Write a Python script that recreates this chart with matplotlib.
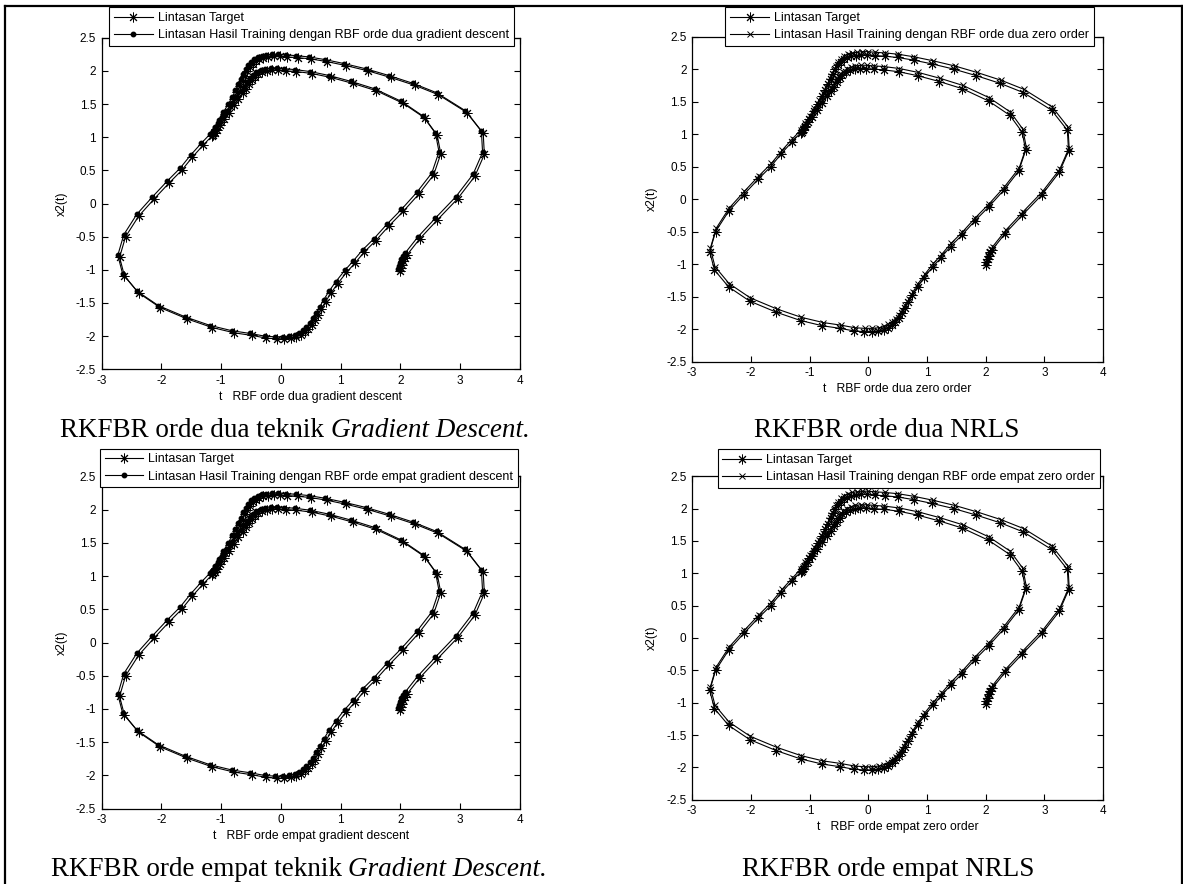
import matplotlib
matplotlib.use('Agg')
import matplotlib.pyplot as plt
from matplotlib.lines import Line2D

plt.rcParams['font.family'] = ['Liberation Sans', 'DejaVu Sans']
plt.rcParams['axes.unicode_minus'] = False

# ---------------- data ----------------
target_x = [2.00, 2.01, 2.03, 2.05, 2.08, 2.11, 2.33, 2.62, 2.96, 3.25,
            3.41, 3.39, 3.12, 2.64, 2.25, 1.84, 1.46, 1.09, 0.77, 0.50,
            0.28, 0.11, -0.02, -0.12, -0.21, -0.29, -0.36, -0.42, -0.47, -0.52,
            -0.56, -0.60, -0.64, -0.68, -0.73, -0.78, -0.85, -0.93, -1.01, -1.08,
            -1.13, -1.30, -1.48, -1.66, -1.87, -2.12, -2.38, -2.60, -2.70, -2.62,
            -2.38, -2.02, -1.57, -1.15, -0.78, -0.48, -0.24, -0.07, 0.06, 0.17,
            0.26, 0.33, 0.40, 0.46, 0.52, 0.57, 0.62, 0.68, 0.75, 0.84,
            0.95, 1.10, 1.24, 1.40, 1.59, 1.81, 2.05, 2.31, 2.56, 2.68,
            2.62, 2.41, 2.05, 1.60, 1.21, 0.84, 0.52, 0.26, 0.09, -0.04,
            -0.14, -0.23, -0.31, -0.38, -0.44, -0.49, -0.54, -0.59, -0.64, -0.71,
            -0.79, -0.87, -0.95, -1.02, -1.07, -1.11, -1.15]
target_y = [-1.02, -0.97, -0.92, -0.87, -0.82, -0.78, -0.53, -0.25, 0.07, 0.41,
            0.74, 1.06, 1.37, 1.64, 1.78, 1.90, 2.00, 2.08, 2.14, 2.18,
            2.20, 2.21, 2.22, 2.22, 2.21, 2.20, 2.18, 2.15, 2.11, 2.06,
            2.00, 1.93, 1.85, 1.77, 1.68, 1.58, 1.47, 1.35, 1.23, 1.12,
            1.04, 0.88, 0.70, 0.50, 0.31, 0.07, -0.19, -0.50, -0.81, -1.09,
            -1.35, -1.57, -1.74, -1.87, -1.95, -1.99, -2.03, -2.04, -2.04, -2.03,
            -2.01, -1.98, -1.94, -1.89, -1.83, -1.76, -1.68, -1.59, -1.48, -1.35,
            -1.21, -1.04, -0.90, -0.73, -0.56, -0.34, -0.12, 0.14, 0.43, 0.75,
            1.03, 1.29, 1.51, 1.70, 1.81, 1.90, 1.96, 1.99, 2.00, 2.01,
            2.01, 2.00, 1.98, 1.95, 1.91, 1.86, 1.80, 1.73, 1.66, 1.58,
            1.48, 1.37, 1.27, 1.18, 1.11, 1.06, 1.02]

# output of the RBF network trained with gradient descent
trained_gd_x = [1.97, 1.98, 2.00, 2.02, 2.05, 2.08, 2.30, 2.59, 2.93, 3.22,
                3.38, 3.36, 3.09, 2.61, 2.22, 1.81, 1.43, 1.06, 0.74, 0.47,
                0.25, 0.08, -0.05, -0.15, -0.24, -0.32, -0.39, -0.45, -0.50, -0.55,
                -0.59, -0.63, -0.67, -0.71, -0.76, -0.81, -0.88, -0.96, -1.04, -1.11,
                -1.16, -1.33, -1.51, -1.69, -1.90, -2.15, -2.41, -2.63, -2.73, -2.65,
                -2.41, -2.05, -1.60, -1.18, -0.81, -0.51, -0.27, -0.10, 0.03, 0.14,
                0.23, 0.30, 0.37, 0.43, 0.49, 0.54, 0.59, 0.65, 0.72, 0.81,
                0.92, 1.07, 1.21, 1.37, 1.56, 1.78, 2.02, 2.28, 2.53, 2.65,
                2.59, 2.38, 2.02, 1.57, 1.18, 0.81, 0.49, 0.23, 0.06, -0.07,
                -0.17, -0.26, -0.34, -0.41, -0.47, -0.52, -0.57, -0.62, -0.67, -0.74,
                -0.82, -0.90, -0.98, -1.05, -1.10, -1.14, -1.18]
trained_gd_y = [-0.99, -0.94, -0.89, -0.84, -0.79, -0.75, -0.50, -0.22, 0.10, 0.44,
                0.77, 1.09, 1.40, 1.67, 1.81, 1.93, 2.03, 2.11, 2.17, 2.21,
                2.23, 2.24, 2.25, 2.25, 2.24, 2.23, 2.21, 2.18, 2.14, 2.09,
                2.03, 1.96, 1.88, 1.80, 1.71, 1.61, 1.50, 1.38, 1.26, 1.15,
                1.07, 0.91, 0.73, 0.53, 0.34, 0.10, -0.16, -0.47, -0.78, -1.06,
                -1.32, -1.54, -1.71, -1.84, -1.92, -1.96, -2.00, -2.01, -2.01, -2.00,
                -1.98, -1.95, -1.91, -1.86, -1.80, -1.73, -1.65, -1.56, -1.45, -1.32,
                -1.18, -1.01, -0.87, -0.70, -0.53, -0.31, -0.09, 0.17, 0.46, 0.78,
                1.06, 1.32, 1.54, 1.73, 1.84, 1.93, 1.99, 2.02, 2.03, 2.04,
                2.04, 2.03, 2.01, 1.98, 1.94, 1.89, 1.83, 1.76, 1.69, 1.61,
                1.51, 1.40, 1.30, 1.21, 1.14, 1.09, 1.05]

# output of the RBF network trained with zero order (NRLS)
trained_zo_x = [2.01, 2.02, 2.04, 2.06, 2.09, 2.12, 2.34, 2.63, 2.97, 3.26,
                3.42, 3.40, 3.13, 2.65, 2.26, 1.85, 1.47, 1.10, 0.78, 0.51,
                0.29, 0.12, -0.01, -0.11, -0.20, -0.28, -0.35, -0.41, -0.46, -0.51,
                -0.55, -0.59, -0.63, -0.67, -0.72, -0.77, -0.84, -0.92, -1.00, -1.07,
                -1.12, -1.29, -1.47, -1.65, -1.86, -2.11, -2.37, -2.59, -2.69, -2.61,
                -2.37, -2.01, -1.56, -1.14, -0.77, -0.47, -0.23, -0.06, 0.07, 0.18,
                0.27, 0.34, 0.41, 0.47, 0.53, 0.58, 0.63, 0.69, 0.76, 0.85,
                0.96, 1.11, 1.25, 1.41, 1.60, 1.82, 2.06, 2.32, 2.57, 2.69,
                2.63, 2.42, 2.06, 1.61, 1.22, 0.85, 0.53, 0.27, 0.10, -0.03,
                -0.13, -0.22, -0.30, -0.37, -0.43, -0.48, -0.53, -0.58, -0.63, -0.70,
                -0.78, -0.86, -0.94, -1.01, -1.06, -1.10, -1.14]
trained_zo_y = [-0.97, -0.92, -0.87, -0.82, -0.77, -0.73, -0.48, -0.20, 0.12, 0.46,
                0.79, 1.11, 1.42, 1.69, 1.83, 1.95, 2.05, 2.13, 2.19, 2.23,
                2.25, 2.26, 2.27, 2.27, 2.26, 2.25, 2.23, 2.20, 2.16, 2.11,
                2.05, 1.98, 1.90, 1.82, 1.73, 1.63, 1.52, 1.40, 1.28, 1.17,
                1.09, 0.93, 0.75, 0.55, 0.36, 0.12, -0.14, -0.45, -0.76, -1.04,
                -1.30, -1.52, -1.69, -1.82, -1.90, -1.94, -1.98, -1.99, -1.99, -1.98,
                -1.96, -1.93, -1.89, -1.84, -1.78, -1.71, -1.63, -1.54, -1.43, -1.30,
                -1.16, -0.99, -0.85, -0.68, -0.51, -0.29, -0.07, 0.19, 0.48, 0.80,
                1.08, 1.34, 1.56, 1.75, 1.86, 1.95, 2.01, 2.04, 2.05, 2.06,
                2.06, 2.05, 2.03, 2.00, 1.96, 1.91, 1.85, 1.78, 1.71, 1.63,
                1.53, 1.42, 1.32, 1.23, 1.16, 1.11, 1.07]

x_ticks = [-3, -2, -1, 0, 1, 2, 3, 4]
y_ticks = [-2.5, -2, -1.5, -1, -0.5, 0, 0.5, 1, 1.5, 2, 2.5]
x_tick_labels = ['-3', '-2', '-1', '0', '1', '2', '3', '4']
y_tick_labels = ['-2.5', '-2', '-1.5', '-1', '-0.5', '0', '0.5', '1', '1.5', '2', '2.5']

label_target = 'Lintasan Target'
labels_trained = ['Lintasan Hasil Training dengan RBF orde dua gradient descent',
                  'Lintasan Hasil Training dengan RBF orde dua zero order',
                  'Lintasan Hasil Training dengan RBF orde empat gradient descent',
                  'Lintasan Hasil Training dengan RBF orde empat zero order']
x_labels = ['t   RBF orde dua gradient descent',
            't   RBF orde dua zero order',
            't   RBF orde empat gradient descent',
            't   RBF orde empat zero order']
y_label = 'x2(t)'
captions = [('RKFBR orde dua teknik ', 'Gradient Descent.'),
            ('RKFBR orde dua NRLS', ''),
            ('RKFBR orde empat teknik ', 'Gradient Descent.'),
            ('RKFBR orde empat NRLS', '')]

# ---------------- layout ----------------
W, H = 1183, 884
fig = plt.figure(figsize=(W / 100, H / 100), dpi=100)

def fx(px):
    return px / W

def fy(py):
    return 1 - py / H

# (left, top, right, bottom) of each axes in pixels
axes_px = [(101.7, 37.7, 519.6, 369.3),
           (692.1, 36.7, 1103.2, 361.5),
           (101.7, 476.3, 519.6, 808.7),
           (692.1, 476.3, 1103.2, 799.7)]
legend_px = [(109.2, 7.3), (725.4, 7.3), (99.8, 448.7), (717.5, 449.3)]
caption_px = [(294.6, 430.0), (887.0, 430.0), (299.0, 869.7), (888.0, 869.7)]
xlabel_gap = 27.5   # px between axes bottom and x-label centre
ylabel_gap = 40.0   # px between axes left and y-label centre
trained_sets = [(trained_gd_x, trained_gd_y, 'o'),
                (trained_zo_x, trained_zo_y, 'x'),
                (trained_gd_x, trained_gd_y, 'o'),
                (trained_zo_x, trained_zo_y, 'x')]

star = (8, 2, 0)
lw = 0.8

for i in range(4):
    l, t, r, b = axes_px[i]
    aw, ah = r - l, b - t
    ax = fig.add_axes([fx(l), fy(b), aw / W, ah / H])
    tx, ty, mk = trained_sets[i]
    h1, = ax.plot(target_x, target_y, color='k', lw=lw, marker=star,
                  ms=7, mew=0.7, label=label_target)
    if mk == 'o':
        h2, = ax.plot(tx, ty, color='k', lw=lw, marker='o', ms=3.2,
                      mfc='k', mec='k', label=labels_trained[i])
    else:
        h2, = ax.plot(tx, ty, color='k', lw=lw, marker='x', ms=4.8,
                      mew=0.7, label=labels_trained[i])
    ax.set_xlim(-3, 4)
    ax.set_ylim(-2.5, 2.5)
    ax.set_xticks(x_ticks)
    ax.set_xticklabels(x_tick_labels)
    ax.set_yticks(y_ticks)
    ax.set_yticklabels(y_tick_labels)
    ax.tick_params(direction='in', top=True, right=True, length=4, width=0.8,
                   labelsize=8.5, pad=4, colors='k')
    for sp in ax.spines.values():
        sp.set_linewidth(0.9)
    ax.set_xlabel(x_labels[i], fontsize=8.7)
    ax.xaxis.label.set_va('center')
    ax.xaxis.set_label_coords(0.5, -xlabel_gap / ah)
    ax.set_ylabel(y_label, fontsize=8.7)
    ax.yaxis.label.set_va('center')
    ax.yaxis.set_label_coords(-ylabel_gap / aw, 0.5)
    lx, ly = legend_px[i]
    leg = ax.legend([h1, h2], [label_target, labels_trained[i]], loc='upper left',
                    bbox_to_anchor=(fx(lx), fy(ly)), bbox_transform=fig.transFigure,
                    borderaxespad=0, fontsize=9.0, frameon=True, fancybox=False,
                    edgecolor='k', framealpha=1, handlelength=3.1, handletextpad=0.4,
                    labelspacing=0.42, borderpad=0.38, numpoints=1)
    leg.get_frame().set_linewidth(0.8)

# captions (normal + italic part), centred as a whole
fig.canvas.draw()
renderer = fig.canvas.get_renderer()
for i in range(4):
    cx, cy = caption_px[i]
    normal, italic = captions[i]
    t1 = fig.text(0, fy(cy), normal, fontsize=19.5, family='Liberation Serif',
                  ha='left', va='center')
    w1 = t1.get_window_extent(renderer).width
    w2 = 0
    t2 = None
    if italic:
        t2 = fig.text(0, fy(cy), italic, fontsize=19.5, family='Liberation Serif',
                      style='italic', ha='left', va='center')
        w2 = t2.get_window_extent(renderer).width
    x0 = cx - (w1 + w2) / 2
    t1.set_x(fx(x0))
    if t2 is not None:
        t2.set_x(fx(x0 + w1))

# outer frame (left, top, right)
frame_kw = dict(transform=fig.transFigure, color='k', lw=1.6)
fig.add_artist(Line2D([fx(5), fx(5)], [0, fy(5.7)], **frame_kw))
fig.add_artist(Line2D([fx(5), fx(1181.5)], [fy(5.7), fy(5.7)], **frame_kw))
fig.add_artist(Line2D([fx(1181.5), fx(1181.5)], [0, fy(5.7)], **frame_kw))

fig.savefig('out.png', dpi=100)
